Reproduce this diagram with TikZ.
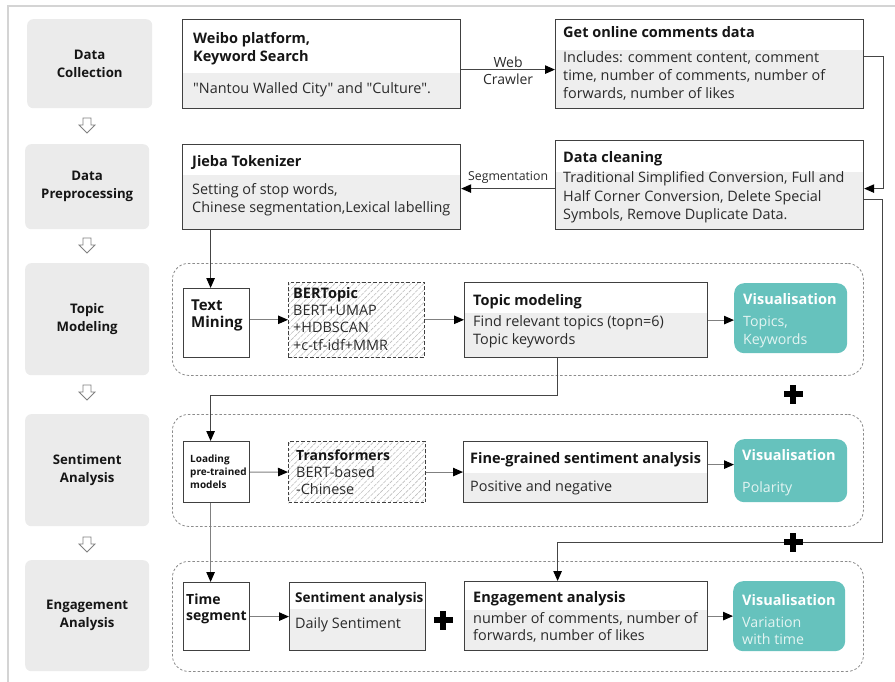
\documentclass[tikz,border=0pt]{standalone}
\usepackage{fontspec}
\setmainfont{Open Sans}[Ligatures=TeXOff]
\usetikzlibrary{arrows.meta,patterns.meta,calc}
\definecolor{boxline}{HTML}{404040}
\definecolor{bodygray}{HTML}{EEEEEE}
\definecolor{stagegray}{HTML}{EBEBEB}
\definecolor{tealc}{HTML}{66C2BD}
\definecolor{tealtxt}{HTML}{E3F4F2}
\definecolor{titlec}{HTML}{151515}
\definecolor{bodyc}{HTML}{2A2A2A}
\definecolor{connc}{HTML}{454545}
\definecolor{connl}{HTML}{808080}
\definecolor{framec}{HTML}{D4D4D4}
\definecolor{dashc}{HTML}{8C8C8C}
\definecolor{hatchc}{HTML}{BDBDBD}
\newcommand\hollowdown[1]{\draw[connl, line width=0.8pt, fill=white] ($#1+(-4,-7.5)$) -- ++(8,0) -- ++(0,7) -- ++(4,0) -- ++(-8,8) -- ++(-8,-8) -- ++(4,0) -- cycle;}
\newcommand\plussign[1]{\fill[black] ($#1+(-9.5,-3)$) rectangle ($#1+(9.5,3)$); \fill[black] ($#1+(-3,-9.5)$) rectangle ($#1+(3,9.5)$);}
\begin{document}
\begin{tikzpicture}[x=1pt,y=-1pt,
 stage/.style={fill=stagegray, rounded corners=6pt, anchor=north west, inner sep=0, align=center, font=\bfseries\fontsize{13.2}{18}\selectfont, text=titlec},
 box/.style={draw=boxline, line width=1.2pt, fill=white, anchor=north west, inner sep=0},
 gbody/.style={path picture={\fill[bodygray] ([yshift=-#1]path picture bounding box.north west) rectangle (path picture bounding box.south east);}},
 hatch/.style={draw=boxline, line width=1.1pt, dash pattern=on 3.5pt off 2pt, pattern={Lines[angle=45,distance=4.5pt,line width=0.6pt]}, pattern color=hatchc, anchor=north west, inner sep=0},
 vis/.style={fill=tealc, rounded corners=10pt, anchor=north west, inner sep=0},
 cont/.style={draw=dashc, line width=0.8pt, dash pattern=on 2.5pt off 2pt, rounded corners=16pt, anchor=north west, inner sep=0},
 ttl/.style={anchor=base west, inner sep=0, align=left, font=\bfseries\fontsize{14.5}{18}\selectfont, text=titlec},
 bdy/.style={anchor=base west, inner sep=0, align=left, font=\fontsize{14.4}{18}\selectfont, text=bodyc},
 vt/.style={anchor=base west, inner sep=0, align=left, font=\bfseries\fontsize{14.5}{18}\selectfont, text=white},
 vb/.style={anchor=base west, inner sep=0, align=left, font=\fontsize{14.2}{18}\selectfont, text=tealtxt},
 lbl/.style={inner sep=0, font=\fontsize{14}{17}\selectfont, text=bodyc},
 conn/.style={draw=connc, line width=1pt, -{Triangle[length=10pt,width=8.5pt,color=black]}},
 connL/.style={draw=connl, line width=1pt, -{Triangle[length=10pt,width=8.5pt,color=black]}}
]
\useasboundingbox (0,0) rectangle (895,682);
\draw[framec, line width=1.5pt] (8,682) -- (8,6) -- (895,6);

% stages
\node[stage, minimum width=125, minimum height=89] (s1) at (27,19) {Data\\Collection};
\node[stage, minimum width=124, minimum height=85] (s2) at (25,144) {Data\\Preprocessing};
\node[stage, minimum width=124, minimum height=112] (s3) at (25,263) {Topic\\Modeling};
\node[stage, minimum width=124, minimum height=112] (s4) at (25,414) {Sentiment\\Analysis};
\node[stage, minimum width=124, minimum height=111] (s5) at (25,560) {Engagement\\Analysis};
\hollowdown{(87,125.5)}
\hollowdown{(87,245.5)}
\hollowdown{(87,392.5)}
\hollowdown{(87,544.5)}

% containers
\node[cont, minimum width=691, minimum height=112] (ct) at (172,263) {};
\node[cont, minimum width=691, minimum height=112] (cs) at (172,414) {};
\node[cont, minimum width=691, minimum height=110] (ce) at (172,561) {};

% boxes
\node[box, gbody=53pt, minimum width=278, minimum height=89] (weibo) at (182,19) {};
\node[box, gbody=30pt, minimum width=308, minimum height=89] (online) at (555,19) {};
\node[box, gbody=30pt, minimum width=278, minimum height=85] (jieba) at (182,144) {};
\node[box, gbody=31pt, minimum width=308, minimum height=89] (clean) at (555,140) {};
\node[box, minimum width=66, minimum height=69] (tm) at (183,288) {};
\node[hatch, minimum width=136, minimum height=75] (bert) at (288,282) {};
\node[box, gbody=30pt, minimum width=243, minimum height=75] (tmod) at (464,282) {};
\node[vis, minimum width=113, minimum height=70] (vis1) at (734,283) {};
\node[box, minimum width=66, minimum height=61] (load) at (183,441) {};
\node[hatch, minimum width=137, minimum height=61] (trans) at (288,441) {};
\node[box, gbody=31pt, minimum width=244, minimum height=61] (fine) at (463,441) {};
\node[vis, minimum width=113, minimum height=63] (vis2) at (734,439) {};
\node[box, minimum width=66, minimum height=68] (ts) at (183,582) {};
\node[box, gbody=26pt, minimum width=136, minimum height=68] (sa) at (289,582) {};
\node[box, gbody=28pt, minimum width=243, minimum height=69] (eng) at (464,581) {};
\node[vis, minimum width=112, minimum height=70] (vis3) at (733,581) {};

% texts (base = baseline of the last line)
\node[ttl] (weibo-t) at (193,62) {Weibo platform,\\Keyword Search};
\node[bdy] (weibo-b) at (193,94) {"Nantou Walled City" and "Culture".};
\node[ttl] (online-t) at (563,38) {Get online comments data};
\node[bdy] (online-b) at (563,99) {Includes: comment content, comment\\time, number of comments, number of\\forwards, number of likes};
\node[ttl] (jieba-t) at (192,167) {Jieba Tokenizer};
\node[bdy] (jieba-b) at (192,213) {Setting of stop words,\\Chinese segmentation,Lexical labelling};
\node[ttl] (clean-t) at (563,163) {Data cleaning};
\node[bdy] (clean-b) at (563,219) {Traditional Simplified Conversion, Full and\\Half Corner Conversion, Delete Special\\Symbols, Remove Duplicate Data.};
\node[ttl, font=\bfseries\fontsize{15}{17}\selectfont] (tm-t) at (191,327) {Text\\Mining};
\node[ttl] (bert-t) at (293,298) {BERTopic};
\node[bdy, font=\fontsize{14.4}{17.5}\selectfont] (bert-b) at (293,350) {BERT+UMAP\\+HDBSCAN\\+c-tf-idf+MMR};
\node[ttl] (tmod-t) at (473,305) {Topic modeling};
\node[bdy] (tmod-b) at (473,344) {Find relevant topics (topn=6)\\Topic keywords};
\node[vt] (vis1-t) at (743,304) {Visualisation};
\node[vb] (vis1-b) at (743,344) {Topics,\\Keywords};
\node[ttl, font=\bfseries\fontsize{10}{13}\selectfont] (load-t) at (190,488) {Loading\\pre-trained\\models};
\node[ttl, font=\bfseries\fontsize{14}{17}\selectfont] (trans-t) at (296,460) {Transformers};
\node[bdy, font=\fontsize{14.4}{17}\selectfont] (trans-b) at (296,494) {BERT-based\\-Chinese};
\node[ttl] (fine-t) at (470,463) {Fine-grained sentiment analysis};
\node[bdy] (fine-b) at (470,491) {Positive and negative};
\node[vt] (vis2-t) at (742,460) {Visualisation};
\node[vb] (vis2-b) at (742,492) {Polarity};
\node[ttl, font=\bfseries\fontsize{14}{16}\selectfont] (ts-t) at (186,620) {Time\\segment};
\node[ttl, font=\bfseries\fontsize{13.5}{16}\selectfont] (sa-t) at (295,602) {Sentiment analysis};
\node[bdy] (sa-b) at (295,628) {Daily Sentiment};
\node[ttl] (eng-t) at (473,602) {Engagement analysis};
\node[bdy, font=\fontsize{14.4}{17}\selectfont] (eng-b) at (473,640) {number of comments, number of\\forwards, number of likes};
\node[vt] (vis3-t) at (742,605) {Visualisation};
\node[vb, font=\fontsize{14.2}{17}\selectfont] (vis3-b) at (742,644) {Variation\\with time};

% connectors
\coordinate (tmin) at ([xshift=-6pt]tm.north);
\coordinate (tmodout) at ([xshift=-28.5pt]tmod.south);
\coordinate (loadin) at ([xshift=-6pt]load.north);
\coordinate (loadout) at ([xshift=-6pt]load.south);
\coordinate (tsin) at ([xshift=-6pt]ts.north);
\coordinate (engin) at ([xshift=-28.5pt]eng.north);
\coordinate (cleanout) at ([yshift=-3.5pt]clean.west);
\coordinate (fineout) at ([yshift=7.5pt]fine.east);
\coordinate (c2) at (882,542);

\draw[conn] ([yshift=-5.5pt]weibo.east) -- ([yshift=-5.5pt]online.west)
  node[midway, above=1pt, lbl] (web) {Web} node[midway, below=4pt, lbl] (crawler) {Crawler};
\draw[conn] ([yshift=7.5pt]online.east) -- ++(19,0) |- ([yshift=-3.5pt]clean.east);
\draw[conn] (cleanout) -- (cleanout -| jieba.east)
  node[midway, above=5pt, lbl, font=\fontsize{12.3}{14}\selectfont] (segm) {Segmentation};
\draw[conn] (tmin |- jieba.south) -- (tmin);
\draw[connL] (bert.west -| tm.east) -- (bert.west);
\draw[connL] (bert.east) -- (bert.east -| tmod.west);
\draw[connL] (tmod.east) -- (tmod.east -| vis1.west);
\draw[conn] (tmodout) -- ++(0,37) -| (loadin);
\draw[connL] (load.east) -- (trans.west);
\draw[connL] (trans.east) -- (trans.east -| fine.west);
\draw[connL] (fineout) -- (fineout -| vis2.west);
\draw[connL] (loadout) -- (tsin);
\draw[conn] ([yshift=-14.5pt]clean.east) -| (c2) -| (engin);
\draw[connL] (sa.west -| ts.east) -- (sa.west);
\draw[connL] (eng.east) -- (eng.east -| vis3.west);

\plussign{(793,394)}
\plussign{(793,542)}
\plussign{(443,620)}
\end{tikzpicture}
\end{document}
